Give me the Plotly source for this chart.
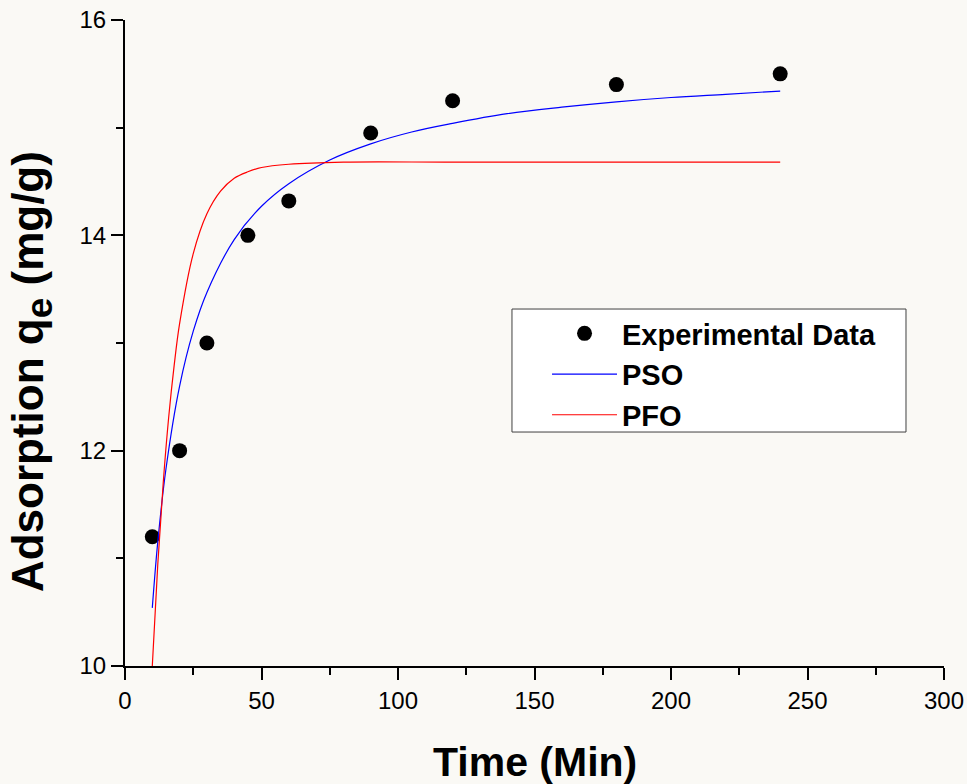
import plotly.graph_objects as go

# Experimental data
time_exp = [10, 20, 30, 45, 60, 90, 120, 180, 240]
q_exp = [11.2, 12.0, 13.0, 14.0, 14.32, 14.95, 15.25, 15.4, 15.5]

# PSO model curve
time_pso = [10, 12, 15, 20, 25, 30, 40, 50, 60, 75, 90, 105, 120, 140, 160, 180, 200, 220, 240]
q_pso = [10.54, 11.15, 11.83, 12.60, 13.11, 13.47, 13.96, 14.27, 14.48, 14.70, 14.85,
         14.96, 15.04, 15.13, 15.19, 15.24, 15.28, 15.31, 15.34]

# PFO model curve
time_pfo = [10, 12, 14, 16, 18, 20, 25, 30, 35, 40, 45, 50, 60, 80, 120, 180, 240]
q_pfo = [10.0, 10.94, 11.70, 12.31, 12.79, 13.18, 13.83, 14.20, 14.41, 14.53, 14.59,
         14.63, 14.66, 14.68, 14.68, 14.68, 14.68]

x_ticks = [0, 50, 100, 150, 200, 250, 300]
y_ticks = [10, 12, 14, 16]

FONT = "Arial, Liberation Sans, sans-serif"
BG = "#faf9f5"

fig = go.Figure()
fig.add_trace(go.Scatter(x=time_exp, y=q_exp, mode="markers", name="Experimental Data",
                         marker=dict(symbol="circle", size=15, color="black")))
fig.add_trace(go.Scatter(x=time_pso, y=q_pso, mode="lines", name="PSO",
                         line=dict(color="#0000ff", width=1.2, shape="spline")))
fig.add_trace(go.Scatter(x=time_pfo, y=q_pfo, mode="lines", name="PFO",
                         line=dict(color="#ff0000", width=1.2, shape="spline")))

axis_common = dict(showgrid=False, zeroline=False, showline=True, linecolor="black",
                   linewidth=2, ticks="outside", ticklen=12, tickwidth=2, tickcolor="black",
                   tickfont=dict(family=FONT, size=24, color="black"), mirror=False,
                   automargin=False)

fig.update_xaxes(range=[0, 300], tickvals=x_ticks, ticktext=[str(v) for v in x_ticks],
                 minor=dict(dtick=25, ticklen=7, tickwidth=2, tickcolor="black", ticks="outside"),
                 **axis_common)
fig.update_yaxes(range=[10, 16], tickvals=y_ticks, ticktext=[str(v) for v in y_ticks],
                 minor=dict(dtick=1, ticklen=7, tickwidth=2, tickcolor="black", ticks="outside"),
                 **axis_common)

fig.add_annotation(text="<b>Time (Min)</b>", xref="paper", yref="paper",
                   x=0.5, y=-0.148, xanchor="center", yanchor="middle", showarrow=False,
                   font=dict(family=FONT, size=41, color="black"))
fig.add_annotation(text="<b>Adsorption q<sub><span style='font-size:37px'>e</span></sub> (mg/g)</b>",
                   xref="paper", yref="paper",
                   x=-0.114, y=0.456, xanchor="center", yanchor="middle", showarrow=False,
                   textangle=-90, font=dict(family=FONT, size=44, color="black"))

# legend frame
fig.add_shape(type="rect", xref="paper", yref="paper",
              x0=0.4725, x1=0.9536, y0=0.3622, y1=0.5526,
              fillcolor="white", line=dict(color="#404040", width=1), layer="above")

fig.update_layout(
    width=967, height=784,
    margin=dict(l=125, r=23, t=20, b=118),
    paper_bgcolor=BG, plot_bgcolor=BG,
    font=dict(family=FONT, color="black"),
    showlegend=True,
    legend=dict(x=0.5153, y=0.5542, xanchor="left", yanchor="top",
                bgcolor="rgba(0,0,0,0)", borderwidth=0,
                font=dict(family=FONT, size=29, color="black", weight="bold"),
                itemwidth=65),
)

fig.write_html(
    "out.html",
    config={"displayModeBar": False},
    post_script=("document.body.style.margin='0';"
                 "document.body.style.overflow='hidden';"
                 "document.documentElement.style.overflow='hidden';"),
)
